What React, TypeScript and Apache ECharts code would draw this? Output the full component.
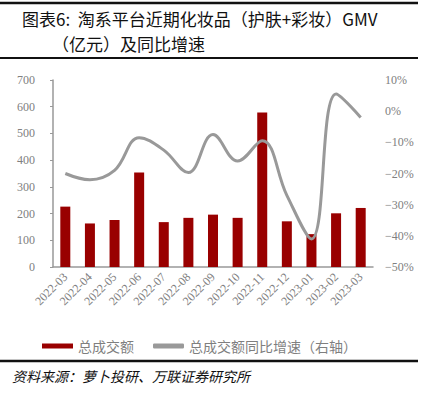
import React, { useEffect, useRef } from "react";
import * as echarts from "echarts";

const categories = [
  "2022-03", "2022-04", "2022-05", "2022-06", "2022-07", "2022-08", "2022-09",
  "2022-10", "2022-11", "2022-12", "2023-01", "2023-02", "2023-03",
];
const gmv = [226, 163, 176, 354, 168, 184, 196, 184, 578, 171, 123, 201, 221];
const yoy = [-20, -22, -19, -8.5, -12.5, -19.7, -7.5, -16, -9.5, -27, -41, 5.5, -2];
const leftTicks = { min: 0, max: 700, interval: 100 };
const rightTicks = { min: -50, max: 10, interval: 10 };

const serif = "'Liberation Serif', 'Noto Sans CJK SC', serif";
const cjk = "'Noto Sans CJK SC', 'Liberation Serif', serif";

export default function App() {
  const ref = useRef<HTMLDivElement>(null);
  useEffect(() => {
    if (!ref.current) return;
    const chart = echarts.init(ref.current, null, { renderer: "svg" });
    chart.setOption({
      animation: false,
      backgroundColor: "#ffffff",
      grid: { left: 53, right: 53, top: 80, bottom: 131 },
      legend: {
        left: 37,
        top: 334,
        itemWidth: 31,
        itemHeight: 5,
        itemGap: 19,
        textStyle: { color: "#7f7f7f", fontSize: 14, fontFamily: cjk },
        data: [
          { name: "总成交额", icon: "rect" },
          { name: "总成交额同比增速（右轴）", icon: "roundRect", itemStyle: { color: "#999999" } },
        ],
      },
      xAxis: {
        type: "category",
        data: categories,
        axisLine: { show: true, lineStyle: { color: "#999999", width: 1.5 } },
        axisTick: { show: false },
        axisLabel: {
          rotate: 45,
          interval: 0,
          color: "#808080",
          fontSize: 12,
          fontFamily: serif,
          margin: 8,
        },
      },
      yAxis: [
        {
          type: "value",
          ...leftTicks,
          axisLine: { show: true, lineStyle: { color: "#999999", width: 1.5 } },
          axisTick: { show: true, inside: false, length: 3, lineStyle: { color: "#999999" } },
          splitLine: { show: false },
          axisLabel: { color: "#808080", fontSize: 12, fontFamily: serif, margin: 18 },
        },
        {
          type: "value",
          ...rightTicks,
          position: "right",
          axisLine: { show: false },
          axisTick: { show: false },
          splitLine: { show: false },
          axisLabel: {
            color: "#808080",
            fontSize: 12,
            fontFamily: serif,
            margin: 12,
            formatter: (v: number) => (v < 0 ? "\u2212" + Math.abs(v) : String(v)) + "%",
          },
        },
      ],
      series: [
        {
          name: "总成交额",
          type: "bar",
          data: gmv,
          barWidth: 10,
          itemStyle: { color: "#990000" },
        },
        {
          name: "总成交额同比增速（右轴）",
          type: "line",
          yAxisIndex: 1,
          data: yoy,
          smooth: 0.4,
          symbol: "none",
          lineStyle: { color: "#999999", width: 3 },
          itemStyle: { color: "#999999" },
        },
      ],
      graphic: [
        { type: "line", shape: { x1: 0, y1: 3, x2: 418, y2: 3 }, style: { stroke: "#111", lineWidth: 2.5 } },
        { type: "line", shape: { x1: 0, y1: 58, x2: 418, y2: 58 }, style: { stroke: "#111", lineWidth: 2 } },
        { type: "line", shape: { x1: 0, y1: 361, x2: 418, y2: 361 }, style: { stroke: "#111", lineWidth: 2.5 } },
        {
          type: "text",
          left: 22,
          top: 10,
          style: { text: "图表6:  淘系平台近期化妆品（护肤+彩妆）GMV", fill: "#111", fontSize: 17, fontFamily: cjk },
        },
        {
          type: "text",
          left: 52,
          top: 35,
          style: { text: "（亿元）及同比增速", fill: "#111", fontSize: 17, fontFamily: cjk },
        },
        {
          type: "text",
          left: 12,
          top: 369,
          style: { text: "资料来源：萝卜投研、万联证券研究所", fill: "#111", fontSize: 14, fontStyle: "italic", fontFamily: cjk },
        },
      ],
    });
    return () => chart.dispose();
  }, []);
  return <div ref={ref} style={{ width: 426, height: 398, position: "absolute", left: 0, top: 0 }} />;
}
